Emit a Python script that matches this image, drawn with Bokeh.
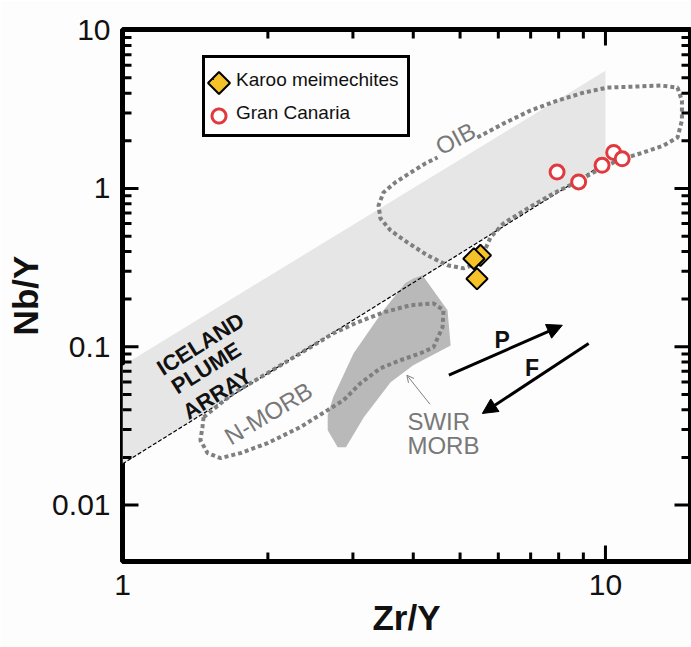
import numpy as np
from bokeh.plotting import figure
from bokeh.models import (FixedTicker, Label, Arrow, NormalHead, OpenHead,
                          Legend, LegendItem, Range1d, CustomJSTickFormatter, PolyAnnotation)
from bokeh.embed import file_html
from bokeh.resources import INLINE

# ---------------- data ----------------
karoo_zr_y = [5.51, 5.34, 5.42]
karoo_nb_y = [0.378, 0.360, 0.269]

gran_canaria_zr_y = [7.94, 8.80, 9.84, 10.40, 10.83]
gran_canaria_nb_y = [1.27, 1.10, 1.40, 1.69, 1.54]

iceland_band_x = [1.0, 10.0, 10.0, 1.0]
iceland_band_y = [0.076, 5.55, 1.45, 0.0182]

delta_nb_x = [1.0, 10.0]
delta_nb_y = [0.0182, 1.45]

swir_x = [4.00, 4.18, 4.71, 4.78, 4.00, 3.59, 3.16, 2.96, 2.90, 2.79, 2.66, 2.66, 2.73, 3.01, 3.47, 3.85]
swir_y = [0.270, 0.283, 0.170, 0.102, 0.0764, 0.0597, 0.0359, 0.0257, 0.0232, 0.0232, 0.0297, 0.037, 0.048, 0.091, 0.170, 0.252]

nmorb_x = [1.472, 1.697, 1.996, 2.336, 2.735, 3.065, 3.470, 3.947, 4.405, 4.62, 4.60, 4.405, 4.14,
           3.763, 3.42, 3.11, 2.87, 2.66, 2.336, 1.996, 1.755, 1.596, 1.50, 1.45, 1.464, 1.472]
nmorb_y = [0.0359, 0.0509, 0.0681, 0.0910, 0.1217, 0.1427, 0.165, 0.183, 0.188, 0.170, 0.133, 0.0993, 0.0910,
           0.0822, 0.0732, 0.0588, 0.046, 0.0398, 0.0311, 0.0246, 0.0213, 0.0198, 0.0213, 0.0257, 0.0311, 0.0359]

oib_x = [5.43, 6.15, 6.99, 7.95, 9.01, 10.09, 11.43, 13.0, 14.1, 14.4, 14.4, 14.1, 13.2, 11.99, 11.1, 10.39,
         9.44, 8.59, 7.80, 6.90, 6.15, 5.78, 5.59, 5.43, 5.08, 4.71, 4.28, 3.89, 3.59, 3.42, 3.39, 3.47,
         3.67, 3.95, 4.24, 4.49]
oib_y = [2.10, 2.57, 3.105, 3.59, 4.03, 4.34, 4.40, 4.47, 4.34, 3.59, 2.69, 2.10, 1.87, 1.69, 1.57, 1.46,
         1.26, 1.075, 0.930, 0.748, 0.602, 0.491, 0.389, 0.336, 0.313, 0.327, 0.378, 0.456, 0.543, 0.647,
         0.781, 0.944, 1.09, 1.26, 1.44, 1.57]

# arrows: partial melting (P) and fractional crystallization (F)
arrow_p = [4.74, 0.0661, 8.14, 0.1367]
arrow_f = [9.23, 0.1047, 5.56, 0.0379]
arrow_swir = [4.33, 0.0434, 3.88, 0.0661]

x_major = [1, 10]
x_minor = [2, 3, 4, 5, 6, 7, 8, 9]
y_major = [0.01, 0.1, 1, 10]
y_minor = [0.02, 0.03, 0.04, 0.05, 0.06, 0.07, 0.08, 0.09,
           0.2, 0.3, 0.4, 0.5, 0.6, 0.7, 0.8, 0.9,
           2, 3, 4, 5, 6, 7, 8, 9]

legend_labels = ["Karoo meimechites", "Gran Canaria"]

FONT = "Liberation Sans"
GREY_TXT = "#787878"
KAROO_FILL = "#f5c22a"
GC_LINE = "#e03a3e"

X0, X1 = 1.0, 15.0
Y0, Y1 = 0.0044, 10.1
W, H = 691, 647
ML, MR, MT, MB = 122, 1, 29, 86
FW, FH = W - ML - MR, H - MT - MB   # frame size, px
MAJ, MIN, TW = 16, 9, 3             # tick lengths and width, px

p = figure(width=W, height=H, x_axis_type="log", y_axis_type="log",
           x_range=Range1d(X0, X1), y_range=Range1d(Y0, Y1),
           output_backend="svg", toolbar_location=None,
           min_border_left=ML, min_border_right=MR, min_border_top=MT, min_border_bottom=MB,
           background_fill_color="#fdfdfd", border_fill_color="#fdfdfd")
p.grid.visible = False
p.outline_line_color = "black"
p.outline_line_width = 5

fmt = CustomJSTickFormatter(code="return tick.toString()")
for ax in (p.xaxis[0], p.yaxis[0]):
    ax.axis_line_color = None
    ax.major_tick_line_color = None
    ax.minor_tick_line_color = None
    ax.major_tick_in = 0
    ax.major_tick_out = 0
    ax.minor_tick_in = 0
    ax.minor_tick_out = 0
    ax.formatter = fmt
    ax.major_label_text_font = FONT
    ax.major_label_text_font_size = "30px"
    ax.major_label_text_color = "#111111"
    ax.axis_label_text_font = FONT
    ax.axis_label_text_font_size = "35px"
    ax.axis_label_text_font_style = "bold"
    ax.axis_label_text_color = "#111111"
p.xaxis.ticker = FixedTicker(ticks=x_major, minor_ticks=x_minor)
p.yaxis.ticker = FixedTicker(ticks=y_major, minor_ticks=y_minor)
p.xaxis.axis_label = "Zr/Y"
p.yaxis.axis_label = "Nb/Y"
p.xaxis.major_label_standoff = 13
p.xaxis.axis_label_standoff = 0
p.yaxis.major_label_standoff = 12
p.yaxis.axis_label_standoff = 4

# fields
p.patch(iceland_band_x, iceland_band_y, fill_color="#e6e6e6", line_color=None)
p.patch(swir_x, swir_y, fill_color="#b9b9b9", line_color=None)
p.line(delta_nb_x, delta_nb_y, line_color="black", line_width=1.2, line_dash="4 2")
p.line(nmorb_x, nmorb_y, line_color="#7f7f7f", line_width=4, line_dash="4 3")
p.line(oib_x, oib_y, line_color="#7f7f7f", line_width=4, line_dash="4 3")

# ---- inward ticks: one comb-shaped annotation per side (tick value in data units,
#      tick length in screen px measured from the frame edge) ----
hx = 10 ** ((TW / 2) * np.log10(X1 / X0) / FW)   # half tick width as a log-x factor
hy = 10 ** ((TW / 2) * np.log10(Y1 / Y0) / FH)   # half tick width as a log-y factor

def comb(values_lengths, base, sign, half):
    along, across = [], []
    for v, L in sorted(values_lengths):
        along += [v / half, v / half, v * half, v * half]
        across += [base, base + sign * L, base + sign * L, base]
    return along, across

y_ticks = [(v, MAJ) for v in y_major] + [(v, MIN) for v in y_minor]
x_ticks = [(v, MAJ) for v in x_major] + [(v, MIN) for v in x_minor]
tick_style = dict(fill_color="black", fill_alpha=1, line_color=None, level="overlay")
for base, sign in ((0, 1), (FW, -1)):
    ys_, xs_ = comb(y_ticks, base, sign, hy)
    p.add_layout(PolyAnnotation(xs=xs_, ys=ys_, xs_units="screen", ys_units="data", **tick_style))
for base, sign in ((0, 1), (FH, -1)):
    xs_, ys_ = comb(x_ticks, base, sign, hx)
    p.add_layout(PolyAnnotation(xs=xs_, ys=ys_, xs_units="data", ys_units="screen", **tick_style))

# arrows
p.add_layout(Arrow(end=NormalHead(size=15, fill_color="black", line_color="black"),
                   x_start=arrow_p[0], y_start=arrow_p[1], x_end=arrow_p[2], y_end=arrow_p[3],
                   line_width=3, line_color="black"))
p.add_layout(Arrow(end=NormalHead(size=15, fill_color="black", line_color="black"),
                   x_start=arrow_f[0], y_start=arrow_f[1], x_end=arrow_f[2], y_end=arrow_f[3],
                   line_width=3, line_color="black"))
p.add_layout(Arrow(end=OpenHead(size=7, line_color="#808080", line_width=1),
                   x_start=arrow_swir[0], y_start=arrow_swir[1], x_end=arrow_swir[2], y_end=arrow_swir[3],
                   line_width=1, line_color="#808080"))

# samples
r_karoo = p.scatter(karoo_zr_y, karoo_nb_y, marker="square", angle=np.pi / 4, size=15,
                    fill_color=KAROO_FILL, line_color="black", line_width=2)
r_gc = p.scatter(gran_canaria_zr_y, gran_canaria_nb_y, marker="circle", size=14,
                 fill_color="white", line_color=GC_LINE, line_width=3)

# text annotations
def lab(x, y, text, angle_deg=0, color="#111111", size="22px", style="normal", align="center"):
    p.add_layout(Label(x=x, y=y, text=text, angle=np.radians(angle_deg), text_align=align,
                       text_baseline="middle", text_font=FONT, text_font_size=size,
                       text_font_style=style, text_color=color))

lab(4.89, 2.07, "OIB", 28, GREY_TXT, "24px")
lab(2.005, 0.038, "N-MORB", 31, GREY_TXT, "24px")
lab(3.89, 0.0335, "SWIR", 0, GREY_TXT, "24px", align="left")
lab(3.89, 0.0239, "MORB", 0, GREY_TXT, "24px", align="left")
lab(1.45, 0.104, "ICELAND", 32, "#111111", "22px", "bold")
lab(1.49, 0.0735, "PLUME", 32, "#111111", "22px", "bold")
lab(1.57, 0.0505, "ARRAY", 32, "#111111", "22px", "bold")
lab(6.11, 0.110, "P", 0, "#111111", "23px", "bold")
lab(7.05, 0.0729, "F", 0, "#111111", "23px", "bold")

# legend: Bokeh box + labels; symbols drawn at full size in the glyph slots
LEG_X, LEG_Y = 80, 424          # bottom-left corner, screen px from frame bottom-left
LEG_PAD, LEG_LH, LEG_SP = 8, 27, 6
SYM_W, TXT_GAP = 17, 6
legend = Legend(items=[LegendItem(label=legend_labels[0], renderers=[r_karoo]),
                       LegendItem(label=legend_labels[1], renderers=[r_gc])],
                location=(LEG_X, LEG_Y), border_line_color="black", border_line_width=3,
                border_line_alpha=1, padding=LEG_PAD, spacing=LEG_SP, glyph_width=1,
                glyph_height=1, label_height=LEG_LH, label_standoff=SYM_W - 1 + TXT_GAP,
                label_text_font=FONT, label_text_font_size="19px", label_text_color="#111111",
                background_fill_alpha=0, margin=0)
p.add_layout(legend)

leg_h = 2 * LEG_PAD + 2 * LEG_LH + LEG_SP
cx = LEG_X + LEG_PAD + SYM_W / 2
cy1 = LEG_Y + leg_h - LEG_PAD - LEG_LH / 2
cy2 = cy1 - LEG_LH - LEG_SP
hd = 11
p.add_layout(PolyAnnotation(xs=[cx, cx + hd, cx, cx - hd], ys=[cy1 + hd, cy1, cy1 - hd, cy1],
                            xs_units="screen", ys_units="screen", level="overlay",
                            fill_color=KAROO_FILL, fill_alpha=1, line_color="black", line_alpha=1,
                            line_width=2))
th = np.linspace(0, 2 * np.pi, 37)[:-1]
p.add_layout(PolyAnnotation(xs=list(cx + 7 * np.cos(th)), ys=list(cy2 + 7 * np.sin(th)),
                            xs_units="screen", ys_units="screen", level="overlay",
                            fill_color="white", fill_alpha=1, line_color=GC_LINE, line_alpha=1,
                            line_width=3))

open("out.html", "w").write(file_html(p, INLINE))
